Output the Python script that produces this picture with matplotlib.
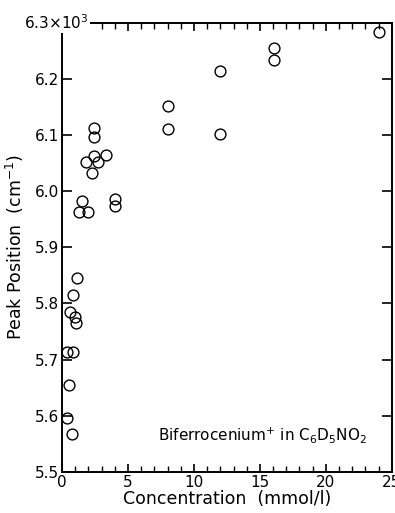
import numpy as np
import matplotlib
matplotlib.use("Agg")
import matplotlib.pyplot as plt
from matplotlib.ticker import MultipleLocator, FixedLocator

# Concentration (mmol/l) and peak position (x10^3 cm^-1)
conc = [24.0, 16.1, 16.1, 12.0, 12.0, 8.05, 8.05, 3.3, 2.45, 2.45,
        1.8, 2.45, 2.7, 2.3, 1.55, 1.3, 1.95, 4.05, 4.05, 1.15,
        0.8, 0.6, 0.95, 1.05, 0.35, 0.85, 0.5, 0.4, 0.75]
peak = [6.283, 6.254, 6.233, 6.213, 6.102, 6.152, 6.111, 6.064, 6.113, 6.096,
        6.052, 6.062, 6.051, 6.033, 5.982, 5.963, 5.963, 5.986, 5.974, 5.845,
        5.815, 5.785, 5.775, 5.765, 5.714, 5.714, 5.654, 5.596, 5.568]

y_ticks = [5.5, 5.6, 5.7, 5.8, 5.9, 6.0, 6.1, 6.2, 6.3]
y_labels = ["5.5", "5.6", "5.7", "5.8", "5.9", "6.0", "6.1", "6.2", ""]
top_label = r"6.3$\times$10$^3$"
x_ticks = [0, 5, 10, 15, 20, 25]

fig = plt.figure(figsize=(3.95, 5.13), dpi=100)
ax = fig.add_axes([0.157, 0.080, 0.835, 0.876])

ax.plot(conc, peak, linestyle="none", marker="o", markersize=7.8,
        markerfacecolor="none", markeredgecolor="black", markeredgewidth=1.0,
        clip_on=False)

ax.set_xlim(0, 25)
ax.set_ylim(5.5, 6.3)
ax.xaxis.set_major_locator(FixedLocator(x_ticks))
ax.xaxis.set_minor_locator(MultipleLocator(1))
ax.set_yticks(y_ticks)
ax.set_yticklabels(y_labels)

for s in ax.spines.values():
    s.set_linewidth(1.4)

ax.tick_params(axis="both", which="both", direction="in", top=True, right=True,
               labelsize=11, pad=2)
ax.tick_params(axis="x", which="major", length=6, width=1.2)
ax.tick_params(axis="x", which="minor", length=4, width=1.0)
ax.tick_params(axis="y", which="major", length=7, width=1.2)

# the top label sits over the corner of the frame, as in the original
ax.text(-0.115, 1.0, top_label, transform=ax.transAxes, ha="left", va="center",
        fontsize=11, zorder=10, clip_on=False,
        bbox=dict(facecolor="white", edgecolor="none", pad=1.0))

ax.set_xlabel("Concentration  (mmol/l)", fontsize=12.5, labelpad=0)
ax.set_ylabel(r"Peak Position  (cm$^{-1}$)", fontsize=12.5)
ax.yaxis.set_label_coords(-0.11, 0.5)

ax.text(15.2, 5.566, r"Biferrocenium$^{+}$ in C$_6$D$_5$NO$_2$",
        ha="center", va="center", fontsize=11)

fig.savefig("out.png", dpi=100)
